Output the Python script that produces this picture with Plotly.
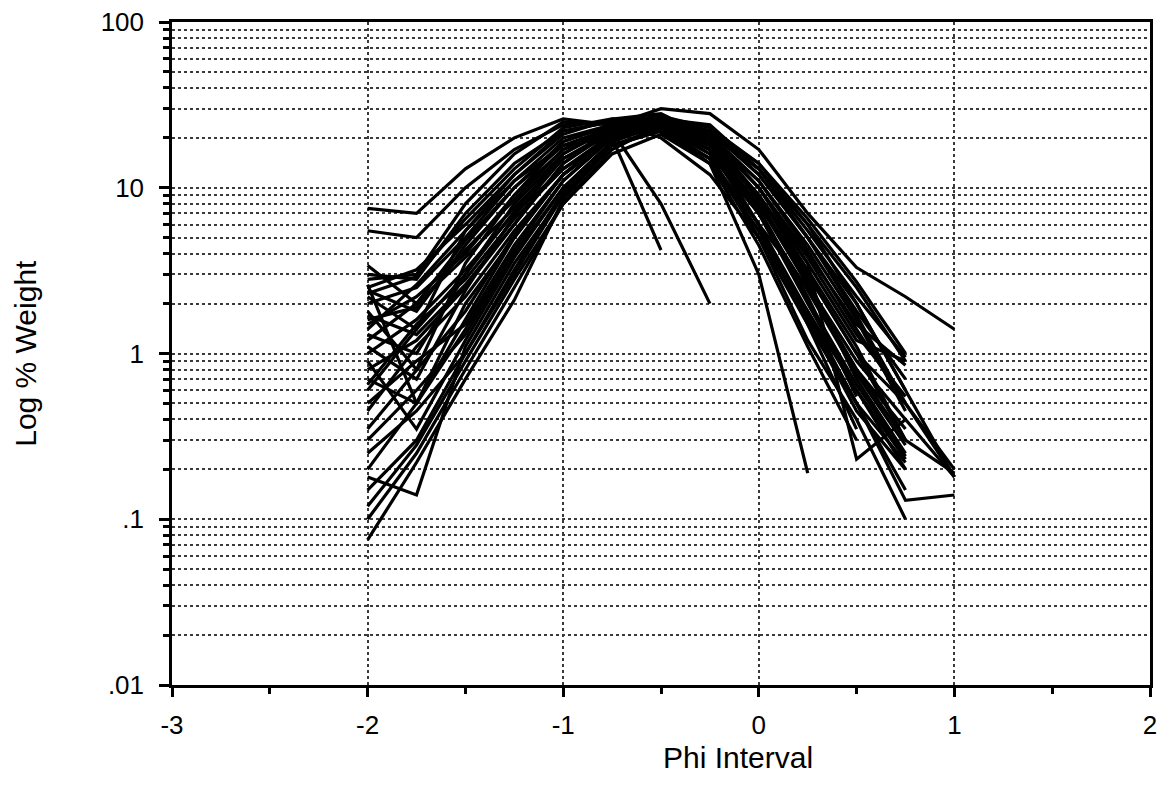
import plotly.graph_objects as go

phi = [-2, -1.75, -1.5, -1.25, -1, -0.75, -0.5, -0.25, 0, 0.25, 0.5, 0.75, 1]

samples = [
    [7.5, 7.0, 13, 20, 26, 24, 22, 15, 6.0, 2.5, 0.8, 0.35],
    [5.5, 5.0, 10, 17, 24, 25, 20, 12, 5.0, 1.8, 0.6, 0.2],
    [3.0, 2.8, 7.0, 14, 22, 25, 24, 17, 8.0, 3.0, 1.0, 0.5, 0.18],
    [2.5, 3.2, 6.0, 12, 21, 26, 28, 20, 9.0, 3.5, 1.2, 0.9],
    [2.4, 1.8, 4.5, 10, 19, 24, 30, 28, 17, 7.0, 3.3, 2.2, 1.4],
    [2.0, 2.5, 5.0, 11, 18, 20, 4.2],
    [1.5, 2.2, 4.0, 9.0, 17, 22, 8.0, 2.0],
    [1.3, 1.0, 3.0, 8.0, 16, 23, 26, 18, 7.0, 2.0, 0.6, 0.23],
    [0.8, 1.2, 2.5, 6.0, 14, 22, 25, 20, 10, 4.0, 1.5, 0.85],
    [0.7, 0.5, 2.0, 5.0, 12, 20, 25, 22, 12, 5.0, 2.0, 0.6, 0.18],
    [0.5, 0.9, 1.5, 4.5, 11, 20, 26, 21, 10, 3.5, 0.23, 0.4, 0.18],
    [0.3, 0.6, 1.3, 4.0, 10, 19, 24, 18, 6.0, 1.5, 0.5, 0.13, 0.14],
    [0.18, 0.14, 1.1, 3.5, 9.0, 18, 23, 16, 5.0, 1.2, 0.4, 0.1],
    [0.15, 0.3, 1.0, 3.0, 9.0, 18, 22, 14, 3.0, 0.19],
    [0.1, 0.25, 0.8, 2.5, 8.0, 17, 24, 17, 6.0, 1.8, 0.5, 0.15],
    [0.075, 0.22, 0.7, 2.1, 8.5, 18, 22, 15, 5.0, 1.5, 0.35],
    [2.8, 3.0, 8.0, 16, 25, 24, 25, 19, 9.0, 3.0, 1.0, 0.3],
    [2.2, 1.4, 5.5, 12, 22, 25, 27, 22, 12, 5.0, 1.8, 0.7],
    [1.8, 0.8, 3.5, 9.0, 19, 24, 26, 20, 11, 4.5, 1.6, 0.45],
    [1.2, 2.0, 3.8, 7.5, 15, 21, 25, 21, 13, 5.5, 2.2, 0.95],
    [1.0, 1.6, 3.2, 7.0, 13, 21, 24, 17, 8.0, 2.8, 0.7, 0.25],
    [0.65, 1.5, 2.8, 6.5, 13, 20, 23, 15, 5.5, 1.6, 0.45, 0.2],
    [0.45, 1.1, 2.2, 5.5, 12, 20, 25, 19, 9.0, 3.2, 1.1, 0.3, 0.19],
    [2.6, 0.5, 1.6, 5.0, 12, 21, 26, 22, 13, 6.0, 2.5, 0.9],
    [1.7, 1.3, 2.6, 6.0, 14, 23, 26, 19, 7.5, 2.2, 0.55],
    [0.9, 0.35, 1.2, 3.8, 10, 19, 25, 20, 10, 3.8, 1.3, 0.55],
    [0.25, 0.45, 1.0, 3.2, 9.5, 19, 24, 19, 8.5, 2.6, 0.8, 0.3],
    [0.12, 0.28, 0.9, 2.8, 8.0, 16, 21, 14, 4.5, 1.1, 0.3],
    [3.4, 2.0, 4.8, 10, 18, 23, 25, 22, 14, 6.5, 2.7, 1.0],
    [1.4, 2.6, 5.5, 11, 20, 24, 23, 14, 5.5, 1.7, 0.5, 0.22],
    [2.3, 2.9, 6.5, 13, 23, 26, 24, 16, 7.0, 2.4, 0.75, 0.28],
    [1.1, 0.7, 2.4, 6.8, 15, 22, 27, 23, 14, 6.0, 2.0, 0.6],
    [0.6, 1.4, 3.0, 7.2, 16, 24, 25, 18, 8.0, 2.6, 0.9, 0.4],
    [0.35, 0.8, 1.8, 5.2, 12, 21, 26, 24, 13, 5.0, 1.7, 0.5],
    [0.2, 0.5, 1.4, 4.2, 11, 20, 23, 17, 7.0, 2.1, 0.65, 0.24],
    [1.6, 1.9, 4.2, 8.5, 17, 24, 27, 21, 11, 4.2, 1.4, 0.5, 0.2],
]

major_vals = [0.01, 0.1, 1, 10, 100]
major_text = [".01", ".1", "1", "10", "100"]
minor_vals = [m * 10.0 ** e for e in range(-2, 2) for m in range(2, 10)]
x_ticks = [-3, -2, -1, 0, 1, 2]

fig = go.Figure()
for vals in samples:
    fig.add_trace(go.Scatter(
        x=phi[:len(vals)], y=vals, mode="lines",
        line=dict(color="black", width=3.2),
        showlegend=False, hoverinfo="skip",
    ))

grid_col = "#3a3a3a"

fig.update_layout(
    width=1157, height=798,
    margin=dict(l=172, r=7, t=22, b=113, autoexpand=False),
    paper_bgcolor="white", plot_bgcolor="white",
    font=dict(family="Liberation Sans, Arial, sans-serif", size=26, color="black"),
    showlegend=False,
)

fig.update_xaxes(
    range=[-3, 2], tickvals=x_ticks, ticktext=[str(v) for v in x_ticks],
    automargin=False, ticklabeloverflow="allow",
    showline=True, linecolor="black", linewidth=2.5, mirror=True,
    ticks="outside", ticklen=9, tickwidth=2.5, tickcolor="black",
    showgrid=True, gridcolor=grid_col, griddash="dot", gridwidth=2,
    zeroline=False,
    minor=dict(dtick=0.5, ticks="outside", ticklen=6, tickwidth=2.5,
               tickcolor="black", showgrid=False),
    ticklabelstandoff=6,
)

fig.update_yaxes(
    type="log", range=[-2, 2], tickvals=major_vals, ticktext=major_text,
    automargin=False,
    showline=True, linecolor="black", linewidth=2.5, mirror=True,
    ticks="outside", ticklen=10, tickwidth=2.5, tickcolor="black",
    showgrid=True, gridcolor=grid_col, griddash="dot", gridwidth=2,
    zeroline=False,
    minor=dict(tickvals=minor_vals, ticks="outside", ticklen=6, tickwidth=2.5,
               tickcolor="black", showgrid=True, gridcolor=grid_col,
               griddash="dot", gridwidth=2),
    ticklabelstandoff=10,
)

fig.add_annotation(text="Phi Interval", xref="paper", yref="paper",
                   x=0.579, y=-0.109, showarrow=False,
                   font=dict(size=30), xanchor="center", yanchor="middle")
fig.add_annotation(text="Log % Weight", xref="paper", yref="paper",
                   x=-0.150, y=0.5, showarrow=False, textangle=-90,
                   font=dict(size=30), xanchor="center", yanchor="middle")

fig.write_html(
    "out.html",
    config={"displayModeBar": False, "responsive": False},
    post_script="document.body.style.margin='0';document.body.style.overflow='hidden';",
)
